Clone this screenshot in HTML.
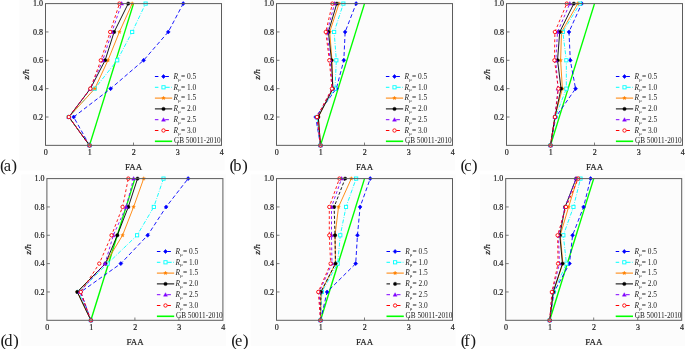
<!DOCTYPE html>
<html><head><meta charset="utf-8"><style>
html,body{margin:0;padding:0;background:#fff;}
svg{display:block;font-family:"Liberation Serif", serif;filter:blur(0.35px);}
text{fill:#1a1a1a;}
.b{stroke:#1a1a1a;stroke-width:0.18px;}
</style></head><body>
<svg width="685" height="349" viewBox="0 0 685 349">
<rect x="0" y="0" width="685" height="349" fill="#ffffff"/>
<g fill="#fcfcfc">
<rect x="19.5" y="0" width="205" height="170.6"/>
<rect x="250" y="0" width="205" height="170.6"/>
<rect x="479.9" y="0" width="205.1" height="170.6"/>
<rect x="21.2" y="174.4" width="205" height="171.4"/>
<rect x="250.7" y="174.4" width="205" height="171.4"/>
<rect x="480" y="174.4" width="205" height="171.4"/>
</g>
<line x1="89.50" y1="145.35" x2="133.50" y2="3.60" stroke="#00ff00" stroke-width="1.4"/>
<polyline points="89.50,145.35 73.66,117.00 110.62,88.65 143.62,60.30 168.26,31.95 183.22,3.60" fill="none" stroke="#0000ff" stroke-width="0.9" stroke-dasharray="4 2.5"/>
<polyline points="89.50,145.35 68.82,117.00 94.78,88.65 117.22,60.30 132.18,31.95 145.60,3.60" fill="none" stroke="#00ffff" stroke-width="0.9" stroke-dasharray="4 1.5 0.8 1.5"/>
<polyline points="89.50,145.35 68.82,117.00 94.78,88.65 107.98,60.30 119.42,31.95 132.18,3.60" fill="none" stroke="#ff8000" stroke-width="0.9"/>
<polyline points="89.50,145.35 68.82,117.00 90.38,88.65 105.12,60.30 114.14,31.95 128.22,3.60" fill="none" stroke="#000000" stroke-width="0.9"/>
<polyline points="89.50,145.35 68.82,117.00 90.38,88.65 102.70,60.30 111.94,31.95 121.62,3.60" fill="none" stroke="#8000ff" stroke-width="0.9" stroke-dasharray="2.8 2.4"/>
<polyline points="89.50,145.35 68.82,117.00 90.38,88.65 100.81,60.30 110.18,31.95 119.42,3.60" fill="none" stroke="#ff0000" stroke-width="0.9" stroke-dasharray="2.8 2.4"/>
<path d="M89.50 143.35L91.40 145.35L89.50 147.35L87.60 145.35Z" fill="#0000ff" stroke="#0000ff" stroke-width="0.6"/>
<path d="M73.66 115.00L75.56 117.00L73.66 119.00L71.76 117.00Z" fill="#0000ff" stroke="#0000ff" stroke-width="0.6"/>
<path d="M110.62 86.65L112.52 88.65L110.62 90.65L108.72 88.65Z" fill="#0000ff" stroke="#0000ff" stroke-width="0.6"/>
<path d="M143.62 58.30L145.52 60.30L143.62 62.30L141.72 60.30Z" fill="#0000ff" stroke="#0000ff" stroke-width="0.6"/>
<path d="M168.26 29.95L170.16 31.95L168.26 33.95L166.36 31.95Z" fill="#0000ff" stroke="#0000ff" stroke-width="0.6"/>
<path d="M183.22 1.60L185.12 3.60L183.22 5.60L181.32 3.60Z" fill="#0000ff" stroke="#0000ff" stroke-width="0.6"/>
<rect x="87.90" y="143.75" width="3.20" height="3.20" fill="#ffffff" stroke="#00ffff" stroke-width="0.9"/>
<rect x="67.22" y="115.40" width="3.20" height="3.20" fill="#ffffff" stroke="#00ffff" stroke-width="0.9"/>
<rect x="93.18" y="87.05" width="3.20" height="3.20" fill="#ffffff" stroke="#00ffff" stroke-width="0.9"/>
<rect x="115.62" y="58.70" width="3.20" height="3.20" fill="#ffffff" stroke="#00ffff" stroke-width="0.9"/>
<rect x="130.58" y="30.35" width="3.20" height="3.20" fill="#ffffff" stroke="#00ffff" stroke-width="0.9"/>
<rect x="144.00" y="2.00" width="3.20" height="3.20" fill="#ffffff" stroke="#00ffff" stroke-width="0.9"/>
<path d="M89.50 143.35L90.03 144.62L91.40 144.73L90.36 145.63L90.68 146.97L89.50 146.25L88.32 146.97L88.64 145.63L87.60 144.73L88.97 144.62Z" fill="#ff8000" stroke="#ff8000" stroke-width="0.3"/>
<path d="M68.82 115.00L69.35 116.27L70.72 116.38L69.68 117.28L70.00 118.62L68.82 117.90L67.64 118.62L67.96 117.28L66.92 116.38L68.29 116.27Z" fill="#ff8000" stroke="#ff8000" stroke-width="0.3"/>
<path d="M94.78 86.65L95.31 87.92L96.68 88.03L95.64 88.93L95.96 90.27L94.78 89.55L93.60 90.27L93.92 88.93L92.88 88.03L94.25 87.92Z" fill="#ff8000" stroke="#ff8000" stroke-width="0.3"/>
<path d="M107.98 58.30L108.51 59.57L109.88 59.68L108.84 60.58L109.16 61.92L107.98 61.20L106.80 61.92L107.12 60.58L106.08 59.68L107.45 59.57Z" fill="#ff8000" stroke="#ff8000" stroke-width="0.3"/>
<path d="M119.42 29.95L119.95 31.22L121.32 31.33L120.28 32.23L120.60 33.57L119.42 32.85L118.24 33.57L118.56 32.23L117.52 31.33L118.89 31.22Z" fill="#ff8000" stroke="#ff8000" stroke-width="0.3"/>
<path d="M132.18 1.60L132.71 2.87L134.08 2.98L133.04 3.88L133.36 5.22L132.18 4.50L131.00 5.22L131.32 3.88L130.28 2.98L131.65 2.87Z" fill="#ff8000" stroke="#ff8000" stroke-width="0.3"/>
<circle cx="89.50" cy="145.35" r="1.70" fill="#000000" stroke="#000000" stroke-width="0.4"/>
<circle cx="68.82" cy="117.00" r="1.70" fill="#000000" stroke="#000000" stroke-width="0.4"/>
<circle cx="90.38" cy="88.65" r="1.70" fill="#000000" stroke="#000000" stroke-width="0.4"/>
<circle cx="105.12" cy="60.30" r="1.70" fill="#000000" stroke="#000000" stroke-width="0.4"/>
<circle cx="114.14" cy="31.95" r="1.70" fill="#000000" stroke="#000000" stroke-width="0.4"/>
<circle cx="128.22" cy="3.60" r="1.70" fill="#000000" stroke="#000000" stroke-width="0.4"/>
<path d="M89.50 143.35L91.50 146.85L87.50 146.85Z" fill="#8000ff" stroke="#8000ff" stroke-width="0.4"/>
<path d="M68.82 115.00L70.82 118.50L66.82 118.50Z" fill="#8000ff" stroke="#8000ff" stroke-width="0.4"/>
<path d="M90.38 86.65L92.38 90.15L88.38 90.15Z" fill="#8000ff" stroke="#8000ff" stroke-width="0.4"/>
<path d="M102.70 58.30L104.70 61.80L100.70 61.80Z" fill="#8000ff" stroke="#8000ff" stroke-width="0.4"/>
<path d="M111.94 29.95L113.94 33.45L109.94 33.45Z" fill="#8000ff" stroke="#8000ff" stroke-width="0.4"/>
<path d="M121.62 1.60L123.62 5.10L119.62 5.10Z" fill="#8000ff" stroke="#8000ff" stroke-width="0.4"/>
<circle cx="89.50" cy="145.35" r="1.70" fill="#ffffff" stroke="#ff0000" stroke-width="0.9"/>
<circle cx="68.82" cy="117.00" r="1.70" fill="#ffffff" stroke="#ff0000" stroke-width="0.9"/>
<circle cx="90.38" cy="88.65" r="1.70" fill="#ffffff" stroke="#ff0000" stroke-width="0.9"/>
<circle cx="100.81" cy="60.30" r="1.70" fill="#ffffff" stroke="#ff0000" stroke-width="0.9"/>
<circle cx="110.18" cy="31.95" r="1.70" fill="#ffffff" stroke="#ff0000" stroke-width="0.9"/>
<circle cx="119.42" cy="3.60" r="1.70" fill="#ffffff" stroke="#ff0000" stroke-width="0.9"/>
<rect x="45.50" y="3.60" width="176.00" height="141.75" fill="none" stroke="#5c5c5c" stroke-width="1"/>
<line x1="89.50" y1="145.35" x2="89.50" y2="142.55" stroke="#5c5c5c" stroke-width="0.8"/>
<line x1="133.50" y1="145.35" x2="133.50" y2="142.55" stroke="#5c5c5c" stroke-width="0.8"/>
<line x1="177.50" y1="145.35" x2="177.50" y2="142.55" stroke="#5c5c5c" stroke-width="0.8"/>
<line x1="45.50" y1="117.00" x2="48.50" y2="117.00" stroke="#5c5c5c" stroke-width="0.8"/>
<line x1="45.50" y1="88.65" x2="48.50" y2="88.65" stroke="#5c5c5c" stroke-width="0.8"/>
<line x1="45.50" y1="60.30" x2="48.50" y2="60.30" stroke="#5c5c5c" stroke-width="0.8"/>
<line x1="45.50" y1="31.95" x2="48.50" y2="31.95" stroke="#5c5c5c" stroke-width="0.8"/>
<text class="b" x="45.80" y="154.95" font-size="8.0" text-anchor="middle">0</text>
<text class="b" x="89.80" y="154.95" font-size="8.0" text-anchor="middle">1</text>
<text class="b" x="133.80" y="154.95" font-size="8.0" text-anchor="middle">2</text>
<text class="b" x="177.80" y="154.95" font-size="8.0" text-anchor="middle">3</text>
<text class="b" x="221.80" y="154.95" font-size="8.0" text-anchor="middle">4</text>
<text class="b" x="43.10" y="119.80" font-size="8.0" text-anchor="end">0.2</text>
<text class="b" x="43.10" y="91.45" font-size="8.0" text-anchor="end">0.4</text>
<text class="b" x="43.10" y="63.10" font-size="8.0" text-anchor="end">0.6</text>
<text class="b" x="43.10" y="34.75" font-size="8.0" text-anchor="end">0.8</text>
<text class="b" x="43.10" y="6.40" font-size="8.0" text-anchor="end">1.0</text>
<text class="b" x="133.60" y="169.75" font-size="9.0" text-anchor="middle" textLength="17.20" lengthAdjust="spacingAndGlyphs">FAA</text>
<text class="b" x="0" y="0" font-size="9.2" font-style="italic" text-anchor="middle" transform="translate(29.40,74.47) rotate(-90)">z/h</text>
<line x1="154.90" y1="76.50" x2="158.40" y2="76.50" stroke="#0000ff" stroke-width="1"/>
<line x1="165.20" y1="76.50" x2="168.90" y2="76.50" stroke="#0000ff" stroke-width="1"/>
<path d="M163.50 74.50L165.40 76.50L163.50 78.50L161.60 76.50Z" fill="#0000ff" stroke="#0000ff" stroke-width="0.6"/>
<text x="173.60" y="78.80" font-size="7.2" textLength="22.6" lengthAdjust="spacingAndGlyphs"><tspan font-style="italic">R</tspan><tspan font-size="5" dy="1.8">μ</tspan><tspan dy="-1.8">= 0.5</tspan></text>
<line x1="154.90" y1="87.30" x2="158.40" y2="87.30" stroke="#00ffff" stroke-width="1"/>
<line x1="165.20" y1="87.30" x2="169.70" y2="87.30" stroke="#00ffff" stroke-width="1"/>
<line x1="171.10" y1="87.30" x2="171.80" y2="87.30" stroke="#00ffff" stroke-width="1"/>
<rect x="161.90" y="85.70" width="3.20" height="3.20" fill="#ffffff" stroke="#00ffff" stroke-width="0.9"/>
<text x="173.60" y="89.60" font-size="7.2" textLength="22.6" lengthAdjust="spacingAndGlyphs"><tspan font-style="italic">R</tspan><tspan font-size="5" dy="1.8">μ</tspan><tspan dy="-1.8">= 1.0</tspan></text>
<line x1="154.90" y1="98.10" x2="172.20" y2="98.10" stroke="#ff8000" stroke-width="1"/>
<path d="M163.50 96.10L164.03 97.37L165.40 97.48L164.36 98.38L164.68 99.72L163.50 99.00L162.32 99.72L162.64 98.38L161.60 97.48L162.97 97.37Z" fill="#ff8000" stroke="#ff8000" stroke-width="0.3"/>
<text x="173.60" y="100.40" font-size="7.2" textLength="22.6" lengthAdjust="spacingAndGlyphs"><tspan font-style="italic">R</tspan><tspan font-size="5" dy="1.8">μ</tspan><tspan dy="-1.8">= 1.5</tspan></text>
<line x1="154.90" y1="108.90" x2="172.20" y2="108.90" stroke="#000000" stroke-width="1"/>
<circle cx="163.50" cy="108.90" r="1.70" fill="#000000" stroke="#000000" stroke-width="0.4"/>
<text x="173.60" y="111.20" font-size="7.2" textLength="22.6" lengthAdjust="spacingAndGlyphs"><tspan font-style="italic">R</tspan><tspan font-size="5" dy="1.8">μ</tspan><tspan dy="-1.8">= 2.0</tspan></text>
<line x1="154.90" y1="119.70" x2="158.40" y2="119.70" stroke="#8000ff" stroke-width="1"/>
<line x1="165.20" y1="119.70" x2="168.90" y2="119.70" stroke="#8000ff" stroke-width="1"/>
<path d="M163.50 117.70L165.50 121.20L161.50 121.20Z" fill="#8000ff" stroke="#8000ff" stroke-width="0.4"/>
<text x="173.60" y="122.00" font-size="7.2" textLength="22.6" lengthAdjust="spacingAndGlyphs"><tspan font-style="italic">R</tspan><tspan font-size="5" dy="1.8">μ</tspan><tspan dy="-1.8">= 2.5</tspan></text>
<line x1="154.90" y1="130.50" x2="158.40" y2="130.50" stroke="#ff0000" stroke-width="1"/>
<line x1="165.20" y1="130.50" x2="168.90" y2="130.50" stroke="#ff0000" stroke-width="1"/>
<circle cx="163.50" cy="130.50" r="1.70" fill="#ffffff" stroke="#ff0000" stroke-width="0.9"/>
<text x="173.60" y="132.80" font-size="7.2" textLength="22.6" lengthAdjust="spacingAndGlyphs"><tspan font-style="italic">R</tspan><tspan font-size="5" dy="1.8">μ</tspan><tspan dy="-1.8">= 3.0</tspan></text>
<line x1="154.90" y1="141.30" x2="172.20" y2="141.30" stroke="#00ff00" stroke-width="1.6"/>
<text x="173.90" y="143.30" font-size="7.4" text-anchor="start" textLength="46.80" lengthAdjust="spacingAndGlyphs">GB 50011-2010</text>
<text x="0.00" y="170.80" font-size="16.5"><tspan font-size="17.5">(</tspan><tspan dx="-2.2">a</tspan><tspan dx="0.4" font-size="17.5">)</tspan></text>
<line x1="320.50" y1="145.35" x2="364.50" y2="3.60" stroke="#00ff00" stroke-width="1.4"/>
<polyline points="320.50,145.35 315.66,117.00 336.34,88.65 343.82,60.30 345.14,31.95 356.14,3.60" fill="none" stroke="#0000ff" stroke-width="0.9" stroke-dasharray="4 2.5"/>
<polyline points="320.50,145.35 316.98,117.00 335.02,88.65 336.34,60.30 334.14,31.95 343.38,3.60" fill="none" stroke="#00ffff" stroke-width="0.9" stroke-dasharray="4 1.5 0.8 1.5"/>
<polyline points="320.50,145.35 318.30,117.00 332.82,88.65 331.94,60.30 329.74,31.95 338.98,3.60" fill="none" stroke="#ff8000" stroke-width="0.9"/>
<polyline points="320.50,145.35 318.30,117.00 332.82,88.65 331.50,60.30 328.42,31.95 336.78,3.60" fill="none" stroke="#000000" stroke-width="0.9"/>
<polyline points="320.50,145.35 316.98,117.00 332.38,88.65 330.18,60.30 327.10,31.95 334.58,3.60" fill="none" stroke="#8000ff" stroke-width="0.9" stroke-dasharray="2.8 2.4"/>
<polyline points="320.50,145.35 316.98,117.00 331.94,88.65 329.30,60.30 325.78,31.95 332.38,3.60" fill="none" stroke="#ff0000" stroke-width="0.9" stroke-dasharray="2.8 2.4"/>
<path d="M320.50 143.35L322.40 145.35L320.50 147.35L318.60 145.35Z" fill="#0000ff" stroke="#0000ff" stroke-width="0.6"/>
<path d="M315.66 115.00L317.56 117.00L315.66 119.00L313.76 117.00Z" fill="#0000ff" stroke="#0000ff" stroke-width="0.6"/>
<path d="M336.34 86.65L338.24 88.65L336.34 90.65L334.44 88.65Z" fill="#0000ff" stroke="#0000ff" stroke-width="0.6"/>
<path d="M343.82 58.30L345.72 60.30L343.82 62.30L341.92 60.30Z" fill="#0000ff" stroke="#0000ff" stroke-width="0.6"/>
<path d="M345.14 29.95L347.04 31.95L345.14 33.95L343.24 31.95Z" fill="#0000ff" stroke="#0000ff" stroke-width="0.6"/>
<path d="M356.14 1.60L358.04 3.60L356.14 5.60L354.24 3.60Z" fill="#0000ff" stroke="#0000ff" stroke-width="0.6"/>
<rect x="318.90" y="143.75" width="3.20" height="3.20" fill="#ffffff" stroke="#00ffff" stroke-width="0.9"/>
<rect x="315.38" y="115.40" width="3.20" height="3.20" fill="#ffffff" stroke="#00ffff" stroke-width="0.9"/>
<rect x="333.42" y="87.05" width="3.20" height="3.20" fill="#ffffff" stroke="#00ffff" stroke-width="0.9"/>
<rect x="334.74" y="58.70" width="3.20" height="3.20" fill="#ffffff" stroke="#00ffff" stroke-width="0.9"/>
<rect x="332.54" y="30.35" width="3.20" height="3.20" fill="#ffffff" stroke="#00ffff" stroke-width="0.9"/>
<rect x="341.78" y="2.00" width="3.20" height="3.20" fill="#ffffff" stroke="#00ffff" stroke-width="0.9"/>
<path d="M320.50 143.35L321.03 144.62L322.40 144.73L321.36 145.63L321.68 146.97L320.50 146.25L319.32 146.97L319.64 145.63L318.60 144.73L319.97 144.62Z" fill="#ff8000" stroke="#ff8000" stroke-width="0.3"/>
<path d="M318.30 115.00L318.83 116.27L320.20 116.38L319.16 117.28L319.48 118.62L318.30 117.90L317.12 118.62L317.44 117.28L316.40 116.38L317.77 116.27Z" fill="#ff8000" stroke="#ff8000" stroke-width="0.3"/>
<path d="M332.82 86.65L333.35 87.92L334.72 88.03L333.68 88.93L334.00 90.27L332.82 89.55L331.64 90.27L331.96 88.93L330.92 88.03L332.29 87.92Z" fill="#ff8000" stroke="#ff8000" stroke-width="0.3"/>
<path d="M331.94 58.30L332.47 59.57L333.84 59.68L332.80 60.58L333.12 61.92L331.94 61.20L330.76 61.92L331.08 60.58L330.04 59.68L331.41 59.57Z" fill="#ff8000" stroke="#ff8000" stroke-width="0.3"/>
<path d="M329.74 29.95L330.27 31.22L331.64 31.33L330.60 32.23L330.92 33.57L329.74 32.85L328.56 33.57L328.88 32.23L327.84 31.33L329.21 31.22Z" fill="#ff8000" stroke="#ff8000" stroke-width="0.3"/>
<path d="M338.98 1.60L339.51 2.87L340.88 2.98L339.84 3.88L340.16 5.22L338.98 4.50L337.80 5.22L338.12 3.88L337.08 2.98L338.45 2.87Z" fill="#ff8000" stroke="#ff8000" stroke-width="0.3"/>
<circle cx="320.50" cy="145.35" r="1.70" fill="#000000" stroke="#000000" stroke-width="0.4"/>
<circle cx="318.30" cy="117.00" r="1.70" fill="#000000" stroke="#000000" stroke-width="0.4"/>
<circle cx="332.82" cy="88.65" r="1.70" fill="#000000" stroke="#000000" stroke-width="0.4"/>
<circle cx="331.50" cy="60.30" r="1.70" fill="#000000" stroke="#000000" stroke-width="0.4"/>
<circle cx="328.42" cy="31.95" r="1.70" fill="#000000" stroke="#000000" stroke-width="0.4"/>
<circle cx="336.78" cy="3.60" r="1.70" fill="#000000" stroke="#000000" stroke-width="0.4"/>
<path d="M320.50 143.35L322.50 146.85L318.50 146.85Z" fill="#8000ff" stroke="#8000ff" stroke-width="0.4"/>
<path d="M316.98 115.00L318.98 118.50L314.98 118.50Z" fill="#8000ff" stroke="#8000ff" stroke-width="0.4"/>
<path d="M332.38 86.65L334.38 90.15L330.38 90.15Z" fill="#8000ff" stroke="#8000ff" stroke-width="0.4"/>
<path d="M330.18 58.30L332.18 61.80L328.18 61.80Z" fill="#8000ff" stroke="#8000ff" stroke-width="0.4"/>
<path d="M327.10 29.95L329.10 33.45L325.10 33.45Z" fill="#8000ff" stroke="#8000ff" stroke-width="0.4"/>
<path d="M334.58 1.60L336.58 5.10L332.58 5.10Z" fill="#8000ff" stroke="#8000ff" stroke-width="0.4"/>
<circle cx="320.50" cy="145.35" r="1.70" fill="#ffffff" stroke="#ff0000" stroke-width="0.9"/>
<circle cx="316.98" cy="117.00" r="1.70" fill="#ffffff" stroke="#ff0000" stroke-width="0.9"/>
<circle cx="331.94" cy="88.65" r="1.70" fill="#ffffff" stroke="#ff0000" stroke-width="0.9"/>
<circle cx="329.30" cy="60.30" r="1.70" fill="#ffffff" stroke="#ff0000" stroke-width="0.9"/>
<circle cx="325.78" cy="31.95" r="1.70" fill="#ffffff" stroke="#ff0000" stroke-width="0.9"/>
<circle cx="332.38" cy="3.60" r="1.70" fill="#ffffff" stroke="#ff0000" stroke-width="0.9"/>
<rect x="276.50" y="3.60" width="176.00" height="141.75" fill="none" stroke="#5c5c5c" stroke-width="1"/>
<line x1="320.50" y1="145.35" x2="320.50" y2="142.55" stroke="#5c5c5c" stroke-width="0.8"/>
<line x1="364.50" y1="145.35" x2="364.50" y2="142.55" stroke="#5c5c5c" stroke-width="0.8"/>
<line x1="408.50" y1="145.35" x2="408.50" y2="142.55" stroke="#5c5c5c" stroke-width="0.8"/>
<line x1="276.50" y1="117.00" x2="279.50" y2="117.00" stroke="#5c5c5c" stroke-width="0.8"/>
<line x1="276.50" y1="88.65" x2="279.50" y2="88.65" stroke="#5c5c5c" stroke-width="0.8"/>
<line x1="276.50" y1="60.30" x2="279.50" y2="60.30" stroke="#5c5c5c" stroke-width="0.8"/>
<line x1="276.50" y1="31.95" x2="279.50" y2="31.95" stroke="#5c5c5c" stroke-width="0.8"/>
<text class="b" x="276.80" y="154.95" font-size="8.0" text-anchor="middle">0</text>
<text class="b" x="320.80" y="154.95" font-size="8.0" text-anchor="middle">1</text>
<text class="b" x="364.80" y="154.95" font-size="8.0" text-anchor="middle">2</text>
<text class="b" x="408.80" y="154.95" font-size="8.0" text-anchor="middle">3</text>
<text class="b" x="452.80" y="154.95" font-size="8.0" text-anchor="middle">4</text>
<text class="b" x="274.10" y="119.80" font-size="8.0" text-anchor="end">0.2</text>
<text class="b" x="274.10" y="91.45" font-size="8.0" text-anchor="end">0.4</text>
<text class="b" x="274.10" y="63.10" font-size="8.0" text-anchor="end">0.6</text>
<text class="b" x="274.10" y="34.75" font-size="8.0" text-anchor="end">0.8</text>
<text class="b" x="274.10" y="6.40" font-size="8.0" text-anchor="end">1.0</text>
<text class="b" x="364.60" y="169.75" font-size="9.0" text-anchor="middle" textLength="17.20" lengthAdjust="spacingAndGlyphs">FAA</text>
<text class="b" x="0" y="0" font-size="9.2" font-style="italic" text-anchor="middle" transform="translate(260.40,74.47) rotate(-90)">z/h</text>
<line x1="385.90" y1="76.50" x2="389.40" y2="76.50" stroke="#0000ff" stroke-width="1"/>
<line x1="396.20" y1="76.50" x2="399.90" y2="76.50" stroke="#0000ff" stroke-width="1"/>
<path d="M394.50 74.50L396.40 76.50L394.50 78.50L392.60 76.50Z" fill="#0000ff" stroke="#0000ff" stroke-width="0.6"/>
<text x="404.60" y="78.80" font-size="7.2" textLength="22.6" lengthAdjust="spacingAndGlyphs"><tspan font-style="italic">R</tspan><tspan font-size="5" dy="1.8">μ</tspan><tspan dy="-1.8">= 0.5</tspan></text>
<line x1="385.90" y1="87.30" x2="389.40" y2="87.30" stroke="#00ffff" stroke-width="1"/>
<line x1="396.20" y1="87.30" x2="400.70" y2="87.30" stroke="#00ffff" stroke-width="1"/>
<line x1="402.10" y1="87.30" x2="402.80" y2="87.30" stroke="#00ffff" stroke-width="1"/>
<rect x="392.90" y="85.70" width="3.20" height="3.20" fill="#ffffff" stroke="#00ffff" stroke-width="0.9"/>
<text x="404.60" y="89.60" font-size="7.2" textLength="22.6" lengthAdjust="spacingAndGlyphs"><tspan font-style="italic">R</tspan><tspan font-size="5" dy="1.8">μ</tspan><tspan dy="-1.8">= 1.0</tspan></text>
<line x1="385.90" y1="98.10" x2="403.20" y2="98.10" stroke="#ff8000" stroke-width="1"/>
<path d="M394.50 96.10L395.03 97.37L396.40 97.48L395.36 98.38L395.68 99.72L394.50 99.00L393.32 99.72L393.64 98.38L392.60 97.48L393.97 97.37Z" fill="#ff8000" stroke="#ff8000" stroke-width="0.3"/>
<text x="404.60" y="100.40" font-size="7.2" textLength="22.6" lengthAdjust="spacingAndGlyphs"><tspan font-style="italic">R</tspan><tspan font-size="5" dy="1.8">μ</tspan><tspan dy="-1.8">= 1.5</tspan></text>
<line x1="385.90" y1="108.90" x2="403.20" y2="108.90" stroke="#000000" stroke-width="1"/>
<circle cx="394.50" cy="108.90" r="1.70" fill="#000000" stroke="#000000" stroke-width="0.4"/>
<text x="404.60" y="111.20" font-size="7.2" textLength="22.6" lengthAdjust="spacingAndGlyphs"><tspan font-style="italic">R</tspan><tspan font-size="5" dy="1.8">μ</tspan><tspan dy="-1.8">= 2.0</tspan></text>
<line x1="385.90" y1="119.70" x2="389.40" y2="119.70" stroke="#8000ff" stroke-width="1"/>
<line x1="396.20" y1="119.70" x2="399.90" y2="119.70" stroke="#8000ff" stroke-width="1"/>
<path d="M394.50 117.70L396.50 121.20L392.50 121.20Z" fill="#8000ff" stroke="#8000ff" stroke-width="0.4"/>
<text x="404.60" y="122.00" font-size="7.2" textLength="22.6" lengthAdjust="spacingAndGlyphs"><tspan font-style="italic">R</tspan><tspan font-size="5" dy="1.8">μ</tspan><tspan dy="-1.8">= 2.5</tspan></text>
<line x1="385.90" y1="130.50" x2="389.40" y2="130.50" stroke="#ff0000" stroke-width="1"/>
<line x1="396.20" y1="130.50" x2="399.90" y2="130.50" stroke="#ff0000" stroke-width="1"/>
<circle cx="394.50" cy="130.50" r="1.70" fill="#ffffff" stroke="#ff0000" stroke-width="0.9"/>
<text x="404.60" y="132.80" font-size="7.2" textLength="22.6" lengthAdjust="spacingAndGlyphs"><tspan font-style="italic">R</tspan><tspan font-size="5" dy="1.8">μ</tspan><tspan dy="-1.8">= 3.0</tspan></text>
<line x1="385.90" y1="141.30" x2="403.20" y2="141.30" stroke="#00ff00" stroke-width="1.6"/>
<text x="404.90" y="143.30" font-size="7.4" text-anchor="start" textLength="46.80" lengthAdjust="spacingAndGlyphs">GB 50011-2010</text>
<text x="229.60" y="170.80" font-size="16.5"><tspan font-size="17.5">(</tspan><tspan dx="-2.2">b</tspan><tspan dx="0.4" font-size="17.5">)</tspan></text>
<line x1="550.50" y1="145.35" x2="594.50" y2="3.60" stroke="#00ff00" stroke-width="1.4"/>
<polyline points="550.50,145.35 555.78,117.00 575.58,88.65 570.30,60.30 568.98,31.95 581.74,3.60" fill="none" stroke="#0000ff" stroke-width="0.9" stroke-dasharray="4 2.5"/>
<polyline points="550.50,145.35 555.34,117.00 566.34,88.65 566.34,60.30 562.82,31.95 579.98,3.60" fill="none" stroke="#00ffff" stroke-width="0.9" stroke-dasharray="4 1.5 0.8 1.5"/>
<polyline points="550.50,145.35 554.90,117.00 562.38,88.65 560.62,60.30 561.50,31.95 577.78,3.60" fill="none" stroke="#ff8000" stroke-width="0.9"/>
<polyline points="550.50,145.35 554.90,117.00 561.06,88.65 557.54,60.30 559.74,31.95 573.82,3.60" fill="none" stroke="#000000" stroke-width="0.9"/>
<polyline points="550.50,145.35 554.90,117.00 557.98,88.65 555.78,60.30 557.54,31.95 569.86,3.60" fill="none" stroke="#8000ff" stroke-width="0.9" stroke-dasharray="2.8 2.4"/>
<polyline points="550.50,145.35 554.90,117.00 558.42,88.65 554.46,60.30 554.90,31.95 566.78,3.60" fill="none" stroke="#ff0000" stroke-width="0.9" stroke-dasharray="2.8 2.4"/>
<path d="M550.50 143.35L552.40 145.35L550.50 147.35L548.60 145.35Z" fill="#0000ff" stroke="#0000ff" stroke-width="0.6"/>
<path d="M555.78 115.00L557.68 117.00L555.78 119.00L553.88 117.00Z" fill="#0000ff" stroke="#0000ff" stroke-width="0.6"/>
<path d="M575.58 86.65L577.48 88.65L575.58 90.65L573.68 88.65Z" fill="#0000ff" stroke="#0000ff" stroke-width="0.6"/>
<path d="M570.30 58.30L572.20 60.30L570.30 62.30L568.40 60.30Z" fill="#0000ff" stroke="#0000ff" stroke-width="0.6"/>
<path d="M568.98 29.95L570.88 31.95L568.98 33.95L567.08 31.95Z" fill="#0000ff" stroke="#0000ff" stroke-width="0.6"/>
<path d="M581.74 1.60L583.64 3.60L581.74 5.60L579.84 3.60Z" fill="#0000ff" stroke="#0000ff" stroke-width="0.6"/>
<rect x="548.90" y="143.75" width="3.20" height="3.20" fill="#ffffff" stroke="#00ffff" stroke-width="0.9"/>
<rect x="553.74" y="115.40" width="3.20" height="3.20" fill="#ffffff" stroke="#00ffff" stroke-width="0.9"/>
<rect x="564.74" y="87.05" width="3.20" height="3.20" fill="#ffffff" stroke="#00ffff" stroke-width="0.9"/>
<rect x="564.74" y="58.70" width="3.20" height="3.20" fill="#ffffff" stroke="#00ffff" stroke-width="0.9"/>
<rect x="561.22" y="30.35" width="3.20" height="3.20" fill="#ffffff" stroke="#00ffff" stroke-width="0.9"/>
<rect x="578.38" y="2.00" width="3.20" height="3.20" fill="#ffffff" stroke="#00ffff" stroke-width="0.9"/>
<path d="M550.50 143.35L551.03 144.62L552.40 144.73L551.36 145.63L551.68 146.97L550.50 146.25L549.32 146.97L549.64 145.63L548.60 144.73L549.97 144.62Z" fill="#ff8000" stroke="#ff8000" stroke-width="0.3"/>
<path d="M554.90 115.00L555.43 116.27L556.80 116.38L555.76 117.28L556.08 118.62L554.90 117.90L553.72 118.62L554.04 117.28L553.00 116.38L554.37 116.27Z" fill="#ff8000" stroke="#ff8000" stroke-width="0.3"/>
<path d="M562.38 86.65L562.91 87.92L564.28 88.03L563.24 88.93L563.56 90.27L562.38 89.55L561.20 90.27L561.52 88.93L560.48 88.03L561.85 87.92Z" fill="#ff8000" stroke="#ff8000" stroke-width="0.3"/>
<path d="M560.62 58.30L561.15 59.57L562.52 59.68L561.48 60.58L561.80 61.92L560.62 61.20L559.44 61.92L559.76 60.58L558.72 59.68L560.09 59.57Z" fill="#ff8000" stroke="#ff8000" stroke-width="0.3"/>
<path d="M561.50 29.95L562.03 31.22L563.40 31.33L562.36 32.23L562.68 33.57L561.50 32.85L560.32 33.57L560.64 32.23L559.60 31.33L560.97 31.22Z" fill="#ff8000" stroke="#ff8000" stroke-width="0.3"/>
<path d="M577.78 1.60L578.31 2.87L579.68 2.98L578.64 3.88L578.96 5.22L577.78 4.50L576.60 5.22L576.92 3.88L575.88 2.98L577.25 2.87Z" fill="#ff8000" stroke="#ff8000" stroke-width="0.3"/>
<circle cx="550.50" cy="145.35" r="1.70" fill="#000000" stroke="#000000" stroke-width="0.4"/>
<circle cx="554.90" cy="117.00" r="1.70" fill="#000000" stroke="#000000" stroke-width="0.4"/>
<circle cx="561.06" cy="88.65" r="1.70" fill="#000000" stroke="#000000" stroke-width="0.4"/>
<circle cx="557.54" cy="60.30" r="1.70" fill="#000000" stroke="#000000" stroke-width="0.4"/>
<circle cx="559.74" cy="31.95" r="1.70" fill="#000000" stroke="#000000" stroke-width="0.4"/>
<circle cx="573.82" cy="3.60" r="1.70" fill="#000000" stroke="#000000" stroke-width="0.4"/>
<path d="M550.50 143.35L552.50 146.85L548.50 146.85Z" fill="#8000ff" stroke="#8000ff" stroke-width="0.4"/>
<path d="M554.90 115.00L556.90 118.50L552.90 118.50Z" fill="#8000ff" stroke="#8000ff" stroke-width="0.4"/>
<path d="M557.98 86.65L559.98 90.15L555.98 90.15Z" fill="#8000ff" stroke="#8000ff" stroke-width="0.4"/>
<path d="M555.78 58.30L557.78 61.80L553.78 61.80Z" fill="#8000ff" stroke="#8000ff" stroke-width="0.4"/>
<path d="M557.54 29.95L559.54 33.45L555.54 33.45Z" fill="#8000ff" stroke="#8000ff" stroke-width="0.4"/>
<path d="M569.86 1.60L571.86 5.10L567.86 5.10Z" fill="#8000ff" stroke="#8000ff" stroke-width="0.4"/>
<circle cx="550.50" cy="145.35" r="1.70" fill="#ffffff" stroke="#ff0000" stroke-width="0.9"/>
<circle cx="554.90" cy="117.00" r="1.70" fill="#ffffff" stroke="#ff0000" stroke-width="0.9"/>
<circle cx="558.42" cy="88.65" r="1.70" fill="#ffffff" stroke="#ff0000" stroke-width="0.9"/>
<circle cx="554.46" cy="60.30" r="1.70" fill="#ffffff" stroke="#ff0000" stroke-width="0.9"/>
<circle cx="554.90" cy="31.95" r="1.70" fill="#ffffff" stroke="#ff0000" stroke-width="0.9"/>
<circle cx="566.78" cy="3.60" r="1.70" fill="#ffffff" stroke="#ff0000" stroke-width="0.9"/>
<rect x="506.50" y="3.60" width="176.00" height="141.75" fill="none" stroke="#5c5c5c" stroke-width="1"/>
<line x1="550.50" y1="145.35" x2="550.50" y2="142.55" stroke="#5c5c5c" stroke-width="0.8"/>
<line x1="594.50" y1="145.35" x2="594.50" y2="142.55" stroke="#5c5c5c" stroke-width="0.8"/>
<line x1="638.50" y1="145.35" x2="638.50" y2="142.55" stroke="#5c5c5c" stroke-width="0.8"/>
<line x1="506.50" y1="117.00" x2="509.50" y2="117.00" stroke="#5c5c5c" stroke-width="0.8"/>
<line x1="506.50" y1="88.65" x2="509.50" y2="88.65" stroke="#5c5c5c" stroke-width="0.8"/>
<line x1="506.50" y1="60.30" x2="509.50" y2="60.30" stroke="#5c5c5c" stroke-width="0.8"/>
<line x1="506.50" y1="31.95" x2="509.50" y2="31.95" stroke="#5c5c5c" stroke-width="0.8"/>
<text class="b" x="506.80" y="154.95" font-size="8.0" text-anchor="middle">0</text>
<text class="b" x="550.80" y="154.95" font-size="8.0" text-anchor="middle">1</text>
<text class="b" x="594.80" y="154.95" font-size="8.0" text-anchor="middle">2</text>
<text class="b" x="638.80" y="154.95" font-size="8.0" text-anchor="middle">3</text>
<text class="b" x="682.80" y="154.95" font-size="8.0" text-anchor="middle">4</text>
<text class="b" x="504.10" y="119.80" font-size="8.0" text-anchor="end">0.2</text>
<text class="b" x="504.10" y="91.45" font-size="8.0" text-anchor="end">0.4</text>
<text class="b" x="504.10" y="63.10" font-size="8.0" text-anchor="end">0.6</text>
<text class="b" x="504.10" y="34.75" font-size="8.0" text-anchor="end">0.8</text>
<text class="b" x="504.10" y="6.40" font-size="8.0" text-anchor="end">1.0</text>
<text class="b" x="594.60" y="169.75" font-size="9.0" text-anchor="middle" textLength="17.20" lengthAdjust="spacingAndGlyphs">FAA</text>
<text class="b" x="0" y="0" font-size="9.2" font-style="italic" text-anchor="middle" transform="translate(490.40,74.47) rotate(-90)">z/h</text>
<line x1="615.90" y1="76.50" x2="619.40" y2="76.50" stroke="#0000ff" stroke-width="1"/>
<line x1="626.20" y1="76.50" x2="629.90" y2="76.50" stroke="#0000ff" stroke-width="1"/>
<path d="M624.50 74.50L626.40 76.50L624.50 78.50L622.60 76.50Z" fill="#0000ff" stroke="#0000ff" stroke-width="0.6"/>
<text x="634.60" y="78.80" font-size="7.2" textLength="22.6" lengthAdjust="spacingAndGlyphs"><tspan font-style="italic">R</tspan><tspan font-size="5" dy="1.8">μ</tspan><tspan dy="-1.8">= 0.5</tspan></text>
<line x1="615.90" y1="87.30" x2="619.40" y2="87.30" stroke="#00ffff" stroke-width="1"/>
<line x1="626.20" y1="87.30" x2="630.70" y2="87.30" stroke="#00ffff" stroke-width="1"/>
<line x1="632.10" y1="87.30" x2="632.80" y2="87.30" stroke="#00ffff" stroke-width="1"/>
<rect x="622.90" y="85.70" width="3.20" height="3.20" fill="#ffffff" stroke="#00ffff" stroke-width="0.9"/>
<text x="634.60" y="89.60" font-size="7.2" textLength="22.6" lengthAdjust="spacingAndGlyphs"><tspan font-style="italic">R</tspan><tspan font-size="5" dy="1.8">μ</tspan><tspan dy="-1.8">= 1.0</tspan></text>
<line x1="615.90" y1="98.10" x2="633.20" y2="98.10" stroke="#ff8000" stroke-width="1"/>
<path d="M624.50 96.10L625.03 97.37L626.40 97.48L625.36 98.38L625.68 99.72L624.50 99.00L623.32 99.72L623.64 98.38L622.60 97.48L623.97 97.37Z" fill="#ff8000" stroke="#ff8000" stroke-width="0.3"/>
<text x="634.60" y="100.40" font-size="7.2" textLength="22.6" lengthAdjust="spacingAndGlyphs"><tspan font-style="italic">R</tspan><tspan font-size="5" dy="1.8">μ</tspan><tspan dy="-1.8">= 1.5</tspan></text>
<line x1="615.90" y1="108.90" x2="633.20" y2="108.90" stroke="#000000" stroke-width="1"/>
<circle cx="624.50" cy="108.90" r="1.70" fill="#000000" stroke="#000000" stroke-width="0.4"/>
<text x="634.60" y="111.20" font-size="7.2" textLength="22.6" lengthAdjust="spacingAndGlyphs"><tspan font-style="italic">R</tspan><tspan font-size="5" dy="1.8">μ</tspan><tspan dy="-1.8">= 2.0</tspan></text>
<line x1="615.90" y1="119.70" x2="619.40" y2="119.70" stroke="#8000ff" stroke-width="1"/>
<line x1="626.20" y1="119.70" x2="629.90" y2="119.70" stroke="#8000ff" stroke-width="1"/>
<path d="M624.50 117.70L626.50 121.20L622.50 121.20Z" fill="#8000ff" stroke="#8000ff" stroke-width="0.4"/>
<text x="634.60" y="122.00" font-size="7.2" textLength="22.6" lengthAdjust="spacingAndGlyphs"><tspan font-style="italic">R</tspan><tspan font-size="5" dy="1.8">μ</tspan><tspan dy="-1.8">= 2.5</tspan></text>
<line x1="615.90" y1="130.50" x2="619.40" y2="130.50" stroke="#ff0000" stroke-width="1"/>
<line x1="626.20" y1="130.50" x2="629.90" y2="130.50" stroke="#ff0000" stroke-width="1"/>
<circle cx="624.50" cy="130.50" r="1.70" fill="#ffffff" stroke="#ff0000" stroke-width="0.9"/>
<text x="634.60" y="132.80" font-size="7.2" textLength="22.6" lengthAdjust="spacingAndGlyphs"><tspan font-style="italic">R</tspan><tspan font-size="5" dy="1.8">μ</tspan><tspan dy="-1.8">= 3.0</tspan></text>
<line x1="615.90" y1="141.30" x2="633.20" y2="141.30" stroke="#00ff00" stroke-width="1.6"/>
<text x="634.90" y="143.30" font-size="7.4" text-anchor="start" textLength="46.80" lengthAdjust="spacingAndGlyphs">GB 50011-2010</text>
<text x="460.50" y="170.80" font-size="16.5"><tspan font-size="17.5">(</tspan><tspan dx="-2.2">c</tspan><tspan dx="0.4" font-size="17.5">)</tspan></text>
<line x1="90.90" y1="320.30" x2="134.90" y2="178.60" stroke="#00ff00" stroke-width="1.4"/>
<polyline points="90.90,320.30 80.78,291.96 120.82,263.62 147.66,235.28 166.14,206.94 188.14,178.60" fill="none" stroke="#0000ff" stroke-width="0.9" stroke-dasharray="4 2.5"/>
<polyline points="90.90,320.30 78.58,291.96 107.62,263.62 137.10,235.28 153.82,206.94 163.50,178.60" fill="none" stroke="#00ffff" stroke-width="0.9" stroke-dasharray="4 1.5 0.8 1.5"/>
<polyline points="90.90,320.30 77.26,291.96 105.42,263.62 122.58,235.28 133.58,206.94 143.70,178.60" fill="none" stroke="#ff8000" stroke-width="0.9"/>
<polyline points="90.90,320.30 77.26,291.96 105.42,263.62 117.30,235.28 128.30,206.94 137.54,178.60" fill="none" stroke="#000000" stroke-width="0.9"/>
<polyline points="90.90,320.30 79.90,291.96 104.98,263.62 113.34,235.28 126.10,206.94 133.58,178.60" fill="none" stroke="#8000ff" stroke-width="0.9" stroke-dasharray="2.8 2.4"/>
<polyline points="90.90,320.30 80.78,291.96 99.26,263.62 111.58,235.28 122.58,206.94 128.30,178.60" fill="none" stroke="#ff0000" stroke-width="0.9" stroke-dasharray="2.8 2.4"/>
<path d="M90.90 318.30L92.80 320.30L90.90 322.30L89.00 320.30Z" fill="#0000ff" stroke="#0000ff" stroke-width="0.6"/>
<path d="M80.78 289.96L82.68 291.96L80.78 293.96L78.88 291.96Z" fill="#0000ff" stroke="#0000ff" stroke-width="0.6"/>
<path d="M120.82 261.62L122.72 263.62L120.82 265.62L118.92 263.62Z" fill="#0000ff" stroke="#0000ff" stroke-width="0.6"/>
<path d="M147.66 233.28L149.56 235.28L147.66 237.28L145.76 235.28Z" fill="#0000ff" stroke="#0000ff" stroke-width="0.6"/>
<path d="M166.14 204.94L168.04 206.94L166.14 208.94L164.24 206.94Z" fill="#0000ff" stroke="#0000ff" stroke-width="0.6"/>
<path d="M188.14 176.60L190.04 178.60L188.14 180.60L186.24 178.60Z" fill="#0000ff" stroke="#0000ff" stroke-width="0.6"/>
<rect x="89.30" y="318.70" width="3.20" height="3.20" fill="#ffffff" stroke="#00ffff" stroke-width="0.9"/>
<rect x="76.98" y="290.36" width="3.20" height="3.20" fill="#ffffff" stroke="#00ffff" stroke-width="0.9"/>
<rect x="106.02" y="262.02" width="3.20" height="3.20" fill="#ffffff" stroke="#00ffff" stroke-width="0.9"/>
<rect x="135.50" y="233.68" width="3.20" height="3.20" fill="#ffffff" stroke="#00ffff" stroke-width="0.9"/>
<rect x="152.22" y="205.34" width="3.20" height="3.20" fill="#ffffff" stroke="#00ffff" stroke-width="0.9"/>
<rect x="161.90" y="177.00" width="3.20" height="3.20" fill="#ffffff" stroke="#00ffff" stroke-width="0.9"/>
<path d="M90.90 318.30L91.43 319.57L92.80 319.68L91.76 320.58L92.08 321.92L90.90 321.20L89.72 321.92L90.04 320.58L89.00 319.68L90.37 319.57Z" fill="#ff8000" stroke="#ff8000" stroke-width="0.3"/>
<path d="M77.26 289.96L77.79 291.23L79.16 291.34L78.12 292.24L78.44 293.58L77.26 292.86L76.08 293.58L76.40 292.24L75.36 291.34L76.73 291.23Z" fill="#ff8000" stroke="#ff8000" stroke-width="0.3"/>
<path d="M105.42 261.62L105.95 262.89L107.32 263.00L106.28 263.90L106.60 265.24L105.42 264.52L104.24 265.24L104.56 263.90L103.52 263.00L104.89 262.89Z" fill="#ff8000" stroke="#ff8000" stroke-width="0.3"/>
<path d="M122.58 233.28L123.11 234.55L124.48 234.66L123.44 235.56L123.76 236.90L122.58 236.18L121.40 236.90L121.72 235.56L120.68 234.66L122.05 234.55Z" fill="#ff8000" stroke="#ff8000" stroke-width="0.3"/>
<path d="M133.58 204.94L134.11 206.21L135.48 206.32L134.44 207.22L134.76 208.56L133.58 207.84L132.40 208.56L132.72 207.22L131.68 206.32L133.05 206.21Z" fill="#ff8000" stroke="#ff8000" stroke-width="0.3"/>
<path d="M143.70 176.60L144.23 177.87L145.60 177.98L144.56 178.88L144.88 180.22L143.70 179.50L142.52 180.22L142.84 178.88L141.80 177.98L143.17 177.87Z" fill="#ff8000" stroke="#ff8000" stroke-width="0.3"/>
<circle cx="90.90" cy="320.30" r="1.70" fill="#000000" stroke="#000000" stroke-width="0.4"/>
<circle cx="77.26" cy="291.96" r="1.70" fill="#000000" stroke="#000000" stroke-width="0.4"/>
<circle cx="105.42" cy="263.62" r="1.70" fill="#000000" stroke="#000000" stroke-width="0.4"/>
<circle cx="117.30" cy="235.28" r="1.70" fill="#000000" stroke="#000000" stroke-width="0.4"/>
<circle cx="128.30" cy="206.94" r="1.70" fill="#000000" stroke="#000000" stroke-width="0.4"/>
<circle cx="137.54" cy="178.60" r="1.70" fill="#000000" stroke="#000000" stroke-width="0.4"/>
<path d="M90.90 318.30L92.90 321.80L88.90 321.80Z" fill="#8000ff" stroke="#8000ff" stroke-width="0.4"/>
<path d="M79.90 289.96L81.90 293.46L77.90 293.46Z" fill="#8000ff" stroke="#8000ff" stroke-width="0.4"/>
<path d="M104.98 261.62L106.98 265.12L102.98 265.12Z" fill="#8000ff" stroke="#8000ff" stroke-width="0.4"/>
<path d="M113.34 233.28L115.34 236.78L111.34 236.78Z" fill="#8000ff" stroke="#8000ff" stroke-width="0.4"/>
<path d="M126.10 204.94L128.10 208.44L124.10 208.44Z" fill="#8000ff" stroke="#8000ff" stroke-width="0.4"/>
<path d="M133.58 176.60L135.58 180.10L131.58 180.10Z" fill="#8000ff" stroke="#8000ff" stroke-width="0.4"/>
<circle cx="90.90" cy="320.30" r="1.70" fill="#ffffff" stroke="#ff0000" stroke-width="0.9"/>
<circle cx="80.78" cy="291.96" r="1.70" fill="#ffffff" stroke="#ff0000" stroke-width="0.9"/>
<circle cx="99.26" cy="263.62" r="1.70" fill="#ffffff" stroke="#ff0000" stroke-width="0.9"/>
<circle cx="111.58" cy="235.28" r="1.70" fill="#ffffff" stroke="#ff0000" stroke-width="0.9"/>
<circle cx="122.58" cy="206.94" r="1.70" fill="#ffffff" stroke="#ff0000" stroke-width="0.9"/>
<circle cx="128.30" cy="178.60" r="1.70" fill="#ffffff" stroke="#ff0000" stroke-width="0.9"/>
<rect x="46.90" y="178.60" width="176.00" height="141.70" fill="none" stroke="#5c5c5c" stroke-width="1"/>
<line x1="90.90" y1="320.30" x2="90.90" y2="317.50" stroke="#5c5c5c" stroke-width="0.8"/>
<line x1="134.90" y1="320.30" x2="134.90" y2="317.50" stroke="#5c5c5c" stroke-width="0.8"/>
<line x1="178.90" y1="320.30" x2="178.90" y2="317.50" stroke="#5c5c5c" stroke-width="0.8"/>
<line x1="46.90" y1="291.96" x2="49.90" y2="291.96" stroke="#5c5c5c" stroke-width="0.8"/>
<line x1="46.90" y1="263.62" x2="49.90" y2="263.62" stroke="#5c5c5c" stroke-width="0.8"/>
<line x1="46.90" y1="235.28" x2="49.90" y2="235.28" stroke="#5c5c5c" stroke-width="0.8"/>
<line x1="46.90" y1="206.94" x2="49.90" y2="206.94" stroke="#5c5c5c" stroke-width="0.8"/>
<text class="b" x="47.20" y="329.90" font-size="8.0" text-anchor="middle">0</text>
<text class="b" x="91.20" y="329.90" font-size="8.0" text-anchor="middle">1</text>
<text class="b" x="135.20" y="329.90" font-size="8.0" text-anchor="middle">2</text>
<text class="b" x="179.20" y="329.90" font-size="8.0" text-anchor="middle">3</text>
<text class="b" x="223.20" y="329.90" font-size="8.0" text-anchor="middle">4</text>
<text class="b" x="44.50" y="294.76" font-size="8.0" text-anchor="end">0.2</text>
<text class="b" x="44.50" y="266.42" font-size="8.0" text-anchor="end">0.4</text>
<text class="b" x="44.50" y="238.08" font-size="8.0" text-anchor="end">0.6</text>
<text class="b" x="44.50" y="209.74" font-size="8.0" text-anchor="end">0.8</text>
<text class="b" x="44.50" y="181.40" font-size="8.0" text-anchor="end">1.0</text>
<text class="b" x="135.00" y="344.70" font-size="9.0" text-anchor="middle" textLength="17.20" lengthAdjust="spacingAndGlyphs">FAA</text>
<text class="b" x="0" y="0" font-size="9.2" font-style="italic" text-anchor="middle" transform="translate(30.80,249.45) rotate(-90)">z/h</text>
<line x1="156.90" y1="251.50" x2="160.40" y2="251.50" stroke="#0000ff" stroke-width="1"/>
<line x1="167.20" y1="251.50" x2="170.90" y2="251.50" stroke="#0000ff" stroke-width="1"/>
<path d="M165.50 249.50L167.40 251.50L165.50 253.50L163.60 251.50Z" fill="#0000ff" stroke="#0000ff" stroke-width="0.6"/>
<text x="175.60" y="253.80" font-size="7.2" textLength="22.6" lengthAdjust="spacingAndGlyphs"><tspan font-style="italic">R</tspan><tspan font-size="5" dy="1.8">μ</tspan><tspan dy="-1.8">= 0.5</tspan></text>
<line x1="156.90" y1="262.30" x2="160.40" y2="262.30" stroke="#00ffff" stroke-width="1"/>
<line x1="167.20" y1="262.30" x2="171.70" y2="262.30" stroke="#00ffff" stroke-width="1"/>
<line x1="173.10" y1="262.30" x2="173.80" y2="262.30" stroke="#00ffff" stroke-width="1"/>
<rect x="163.90" y="260.70" width="3.20" height="3.20" fill="#ffffff" stroke="#00ffff" stroke-width="0.9"/>
<text x="175.60" y="264.60" font-size="7.2" textLength="22.6" lengthAdjust="spacingAndGlyphs"><tspan font-style="italic">R</tspan><tspan font-size="5" dy="1.8">μ</tspan><tspan dy="-1.8">= 1.0</tspan></text>
<line x1="156.90" y1="273.10" x2="174.20" y2="273.10" stroke="#ff8000" stroke-width="1"/>
<path d="M165.50 271.10L166.03 272.37L167.40 272.48L166.36 273.38L166.68 274.72L165.50 274.00L164.32 274.72L164.64 273.38L163.60 272.48L164.97 272.37Z" fill="#ff8000" stroke="#ff8000" stroke-width="0.3"/>
<text x="175.60" y="275.40" font-size="7.2" textLength="22.6" lengthAdjust="spacingAndGlyphs"><tspan font-style="italic">R</tspan><tspan font-size="5" dy="1.8">μ</tspan><tspan dy="-1.8">= 1.5</tspan></text>
<line x1="156.90" y1="283.90" x2="174.20" y2="283.90" stroke="#000000" stroke-width="1"/>
<circle cx="165.50" cy="283.90" r="1.70" fill="#000000" stroke="#000000" stroke-width="0.4"/>
<text x="175.60" y="286.20" font-size="7.2" textLength="22.6" lengthAdjust="spacingAndGlyphs"><tspan font-style="italic">R</tspan><tspan font-size="5" dy="1.8">μ</tspan><tspan dy="-1.8">= 2.0</tspan></text>
<line x1="156.90" y1="294.70" x2="160.40" y2="294.70" stroke="#8000ff" stroke-width="1"/>
<line x1="167.20" y1="294.70" x2="170.90" y2="294.70" stroke="#8000ff" stroke-width="1"/>
<path d="M165.50 292.70L167.50 296.20L163.50 296.20Z" fill="#8000ff" stroke="#8000ff" stroke-width="0.4"/>
<text x="175.60" y="297.00" font-size="7.2" textLength="22.6" lengthAdjust="spacingAndGlyphs"><tspan font-style="italic">R</tspan><tspan font-size="5" dy="1.8">μ</tspan><tspan dy="-1.8">= 2.5</tspan></text>
<line x1="156.90" y1="305.50" x2="160.40" y2="305.50" stroke="#ff0000" stroke-width="1"/>
<line x1="167.20" y1="305.50" x2="170.90" y2="305.50" stroke="#ff0000" stroke-width="1"/>
<circle cx="165.50" cy="305.50" r="1.70" fill="#ffffff" stroke="#ff0000" stroke-width="0.9"/>
<text x="175.60" y="307.80" font-size="7.2" textLength="22.6" lengthAdjust="spacingAndGlyphs"><tspan font-style="italic">R</tspan><tspan font-size="5" dy="1.8">μ</tspan><tspan dy="-1.8">= 3.0</tspan></text>
<line x1="156.90" y1="316.30" x2="174.20" y2="316.30" stroke="#00ff00" stroke-width="1.6"/>
<text x="175.90" y="318.30" font-size="7.4" text-anchor="start" textLength="46.80" lengthAdjust="spacingAndGlyphs">GB 50011-2010</text>
<text x="0.60" y="346.00" font-size="16.5"><tspan font-size="17.5">(</tspan><tspan dx="-2.2">d</tspan><tspan dx="0.4" font-size="17.5">)</tspan></text>
<line x1="320.50" y1="320.30" x2="364.50" y2="178.60" stroke="#00ff00" stroke-width="1.4"/>
<polyline points="320.50,320.30 327.10,291.96 355.70,263.62 357.46,235.28 360.10,206.94 370.22,178.60" fill="none" stroke="#0000ff" stroke-width="0.9" stroke-dasharray="4 2.5"/>
<polyline points="320.50,320.30 321.82,291.96 337.66,263.62 340.30,235.28 346.02,206.94 356.14,178.60" fill="none" stroke="#00ffff" stroke-width="0.9" stroke-dasharray="4 1.5 0.8 1.5"/>
<polyline points="320.50,320.30 320.94,291.96 335.46,263.62 335.02,235.28 338.54,206.94 351.30,178.60" fill="none" stroke="#ff8000" stroke-width="0.9"/>
<polyline points="320.50,320.30 320.94,291.96 335.46,263.62 335.02,235.28 334.14,206.94 345.14,178.60" fill="none" stroke="#000000" stroke-width="0.9" stroke-dasharray="3 2"/>
<polyline points="320.50,320.30 319.18,291.96 331.94,263.62 331.50,235.28 331.50,206.94 341.62,178.60" fill="none" stroke="#8000ff" stroke-width="0.9" stroke-dasharray="2.8 2.4"/>
<polyline points="320.50,320.30 318.30,291.96 330.62,263.62 329.30,235.28 329.30,206.94 339.42,178.60" fill="none" stroke="#ff0000" stroke-width="0.9" stroke-dasharray="2.8 2.4"/>
<path d="M320.50 318.30L322.40 320.30L320.50 322.30L318.60 320.30Z" fill="#0000ff" stroke="#0000ff" stroke-width="0.6"/>
<path d="M327.10 289.96L329.00 291.96L327.10 293.96L325.20 291.96Z" fill="#0000ff" stroke="#0000ff" stroke-width="0.6"/>
<path d="M355.70 261.62L357.60 263.62L355.70 265.62L353.80 263.62Z" fill="#0000ff" stroke="#0000ff" stroke-width="0.6"/>
<path d="M357.46 233.28L359.36 235.28L357.46 237.28L355.56 235.28Z" fill="#0000ff" stroke="#0000ff" stroke-width="0.6"/>
<path d="M360.10 204.94L362.00 206.94L360.10 208.94L358.20 206.94Z" fill="#0000ff" stroke="#0000ff" stroke-width="0.6"/>
<path d="M370.22 176.60L372.12 178.60L370.22 180.60L368.32 178.60Z" fill="#0000ff" stroke="#0000ff" stroke-width="0.6"/>
<rect x="318.90" y="318.70" width="3.20" height="3.20" fill="#ffffff" stroke="#00ffff" stroke-width="0.9"/>
<rect x="320.22" y="290.36" width="3.20" height="3.20" fill="#ffffff" stroke="#00ffff" stroke-width="0.9"/>
<rect x="336.06" y="262.02" width="3.20" height="3.20" fill="#ffffff" stroke="#00ffff" stroke-width="0.9"/>
<rect x="338.70" y="233.68" width="3.20" height="3.20" fill="#ffffff" stroke="#00ffff" stroke-width="0.9"/>
<rect x="344.42" y="205.34" width="3.20" height="3.20" fill="#ffffff" stroke="#00ffff" stroke-width="0.9"/>
<rect x="354.54" y="177.00" width="3.20" height="3.20" fill="#ffffff" stroke="#00ffff" stroke-width="0.9"/>
<path d="M320.50 318.30L321.03 319.57L322.40 319.68L321.36 320.58L321.68 321.92L320.50 321.20L319.32 321.92L319.64 320.58L318.60 319.68L319.97 319.57Z" fill="#ff8000" stroke="#ff8000" stroke-width="0.3"/>
<path d="M320.94 289.96L321.47 291.23L322.84 291.34L321.80 292.24L322.12 293.58L320.94 292.86L319.76 293.58L320.08 292.24L319.04 291.34L320.41 291.23Z" fill="#ff8000" stroke="#ff8000" stroke-width="0.3"/>
<path d="M335.46 261.62L335.99 262.89L337.36 263.00L336.32 263.90L336.64 265.24L335.46 264.52L334.28 265.24L334.60 263.90L333.56 263.00L334.93 262.89Z" fill="#ff8000" stroke="#ff8000" stroke-width="0.3"/>
<path d="M335.02 233.28L335.55 234.55L336.92 234.66L335.88 235.56L336.20 236.90L335.02 236.18L333.84 236.90L334.16 235.56L333.12 234.66L334.49 234.55Z" fill="#ff8000" stroke="#ff8000" stroke-width="0.3"/>
<path d="M338.54 204.94L339.07 206.21L340.44 206.32L339.40 207.22L339.72 208.56L338.54 207.84L337.36 208.56L337.68 207.22L336.64 206.32L338.01 206.21Z" fill="#ff8000" stroke="#ff8000" stroke-width="0.3"/>
<path d="M351.30 176.60L351.83 177.87L353.20 177.98L352.16 178.88L352.48 180.22L351.30 179.50L350.12 180.22L350.44 178.88L349.40 177.98L350.77 177.87Z" fill="#ff8000" stroke="#ff8000" stroke-width="0.3"/>
<circle cx="320.50" cy="320.30" r="1.70" fill="#000000" stroke="#000000" stroke-width="0.4"/>
<circle cx="320.94" cy="291.96" r="1.70" fill="#000000" stroke="#000000" stroke-width="0.4"/>
<circle cx="335.46" cy="263.62" r="1.70" fill="#000000" stroke="#000000" stroke-width="0.4"/>
<circle cx="335.02" cy="235.28" r="1.70" fill="#000000" stroke="#000000" stroke-width="0.4"/>
<circle cx="334.14" cy="206.94" r="1.70" fill="#000000" stroke="#000000" stroke-width="0.4"/>
<circle cx="345.14" cy="178.60" r="1.70" fill="#000000" stroke="#000000" stroke-width="0.4"/>
<path d="M320.50 318.30L322.50 321.80L318.50 321.80Z" fill="#8000ff" stroke="#8000ff" stroke-width="0.4"/>
<path d="M319.18 289.96L321.18 293.46L317.18 293.46Z" fill="#8000ff" stroke="#8000ff" stroke-width="0.4"/>
<path d="M331.94 261.62L333.94 265.12L329.94 265.12Z" fill="#8000ff" stroke="#8000ff" stroke-width="0.4"/>
<path d="M331.50 233.28L333.50 236.78L329.50 236.78Z" fill="#8000ff" stroke="#8000ff" stroke-width="0.4"/>
<path d="M331.50 204.94L333.50 208.44L329.50 208.44Z" fill="#8000ff" stroke="#8000ff" stroke-width="0.4"/>
<path d="M341.62 176.60L343.62 180.10L339.62 180.10Z" fill="#8000ff" stroke="#8000ff" stroke-width="0.4"/>
<circle cx="320.50" cy="320.30" r="1.70" fill="#ffffff" stroke="#ff0000" stroke-width="0.9"/>
<circle cx="318.30" cy="291.96" r="1.70" fill="#ffffff" stroke="#ff0000" stroke-width="0.9"/>
<circle cx="330.62" cy="263.62" r="1.70" fill="#ffffff" stroke="#ff0000" stroke-width="0.9"/>
<circle cx="329.30" cy="235.28" r="1.70" fill="#ffffff" stroke="#ff0000" stroke-width="0.9"/>
<circle cx="329.30" cy="206.94" r="1.70" fill="#ffffff" stroke="#ff0000" stroke-width="0.9"/>
<circle cx="339.42" cy="178.60" r="1.70" fill="#ffffff" stroke="#ff0000" stroke-width="0.9"/>
<rect x="276.50" y="178.60" width="176.00" height="141.70" fill="none" stroke="#5c5c5c" stroke-width="1"/>
<line x1="320.50" y1="320.30" x2="320.50" y2="317.50" stroke="#5c5c5c" stroke-width="0.8"/>
<line x1="364.50" y1="320.30" x2="364.50" y2="317.50" stroke="#5c5c5c" stroke-width="0.8"/>
<line x1="408.50" y1="320.30" x2="408.50" y2="317.50" stroke="#5c5c5c" stroke-width="0.8"/>
<line x1="276.50" y1="291.96" x2="279.50" y2="291.96" stroke="#5c5c5c" stroke-width="0.8"/>
<line x1="276.50" y1="263.62" x2="279.50" y2="263.62" stroke="#5c5c5c" stroke-width="0.8"/>
<line x1="276.50" y1="235.28" x2="279.50" y2="235.28" stroke="#5c5c5c" stroke-width="0.8"/>
<line x1="276.50" y1="206.94" x2="279.50" y2="206.94" stroke="#5c5c5c" stroke-width="0.8"/>
<text class="b" x="276.80" y="329.90" font-size="8.0" text-anchor="middle">0</text>
<text class="b" x="320.80" y="329.90" font-size="8.0" text-anchor="middle">1</text>
<text class="b" x="364.80" y="329.90" font-size="8.0" text-anchor="middle">2</text>
<text class="b" x="408.80" y="329.90" font-size="8.0" text-anchor="middle">3</text>
<text class="b" x="452.80" y="329.90" font-size="8.0" text-anchor="middle">4</text>
<text class="b" x="274.10" y="294.76" font-size="8.0" text-anchor="end">0.2</text>
<text class="b" x="274.10" y="266.42" font-size="8.0" text-anchor="end">0.4</text>
<text class="b" x="274.10" y="238.08" font-size="8.0" text-anchor="end">0.6</text>
<text class="b" x="274.10" y="209.74" font-size="8.0" text-anchor="end">0.8</text>
<text class="b" x="274.10" y="181.40" font-size="8.0" text-anchor="end">1.0</text>
<text class="b" x="364.60" y="344.70" font-size="9.0" text-anchor="middle" textLength="17.20" lengthAdjust="spacingAndGlyphs">FAA</text>
<text class="b" x="0" y="0" font-size="9.2" font-style="italic" text-anchor="middle" transform="translate(260.40,249.45) rotate(-90)">z/h</text>
<line x1="386.50" y1="251.50" x2="390.00" y2="251.50" stroke="#0000ff" stroke-width="1"/>
<line x1="396.80" y1="251.50" x2="400.50" y2="251.50" stroke="#0000ff" stroke-width="1"/>
<path d="M395.10 249.50L397.00 251.50L395.10 253.50L393.20 251.50Z" fill="#0000ff" stroke="#0000ff" stroke-width="0.6"/>
<text x="405.20" y="253.80" font-size="7.2" textLength="22.6" lengthAdjust="spacingAndGlyphs"><tspan font-style="italic">R</tspan><tspan font-size="5" dy="1.8">μ</tspan><tspan dy="-1.8">= 0.5</tspan></text>
<line x1="386.50" y1="262.30" x2="390.00" y2="262.30" stroke="#00ffff" stroke-width="1"/>
<line x1="396.80" y1="262.30" x2="401.30" y2="262.30" stroke="#00ffff" stroke-width="1"/>
<line x1="402.70" y1="262.30" x2="403.40" y2="262.30" stroke="#00ffff" stroke-width="1"/>
<rect x="393.50" y="260.70" width="3.20" height="3.20" fill="#ffffff" stroke="#00ffff" stroke-width="0.9"/>
<text x="405.20" y="264.60" font-size="7.2" textLength="22.6" lengthAdjust="spacingAndGlyphs"><tspan font-style="italic">R</tspan><tspan font-size="5" dy="1.8">μ</tspan><tspan dy="-1.8">= 1.0</tspan></text>
<line x1="386.50" y1="273.10" x2="403.80" y2="273.10" stroke="#ff8000" stroke-width="1"/>
<path d="M395.10 271.10L395.63 272.37L397.00 272.48L395.96 273.38L396.28 274.72L395.10 274.00L393.92 274.72L394.24 273.38L393.20 272.48L394.57 272.37Z" fill="#ff8000" stroke="#ff8000" stroke-width="0.3"/>
<text x="405.20" y="275.40" font-size="7.2" textLength="22.6" lengthAdjust="spacingAndGlyphs"><tspan font-style="italic">R</tspan><tspan font-size="5" dy="1.8">μ</tspan><tspan dy="-1.8">= 1.5</tspan></text>
<line x1="386.50" y1="283.90" x2="390.00" y2="283.90" stroke="#000000" stroke-width="1"/>
<line x1="396.80" y1="283.90" x2="400.50" y2="283.90" stroke="#000000" stroke-width="1"/>
<circle cx="395.10" cy="283.90" r="1.70" fill="#000000" stroke="#000000" stroke-width="0.4"/>
<text x="405.20" y="286.20" font-size="7.2" textLength="22.6" lengthAdjust="spacingAndGlyphs"><tspan font-style="italic">R</tspan><tspan font-size="5" dy="1.8">μ</tspan><tspan dy="-1.8">= 2.0</tspan></text>
<line x1="386.50" y1="294.70" x2="390.00" y2="294.70" stroke="#8000ff" stroke-width="1"/>
<line x1="396.80" y1="294.70" x2="400.50" y2="294.70" stroke="#8000ff" stroke-width="1"/>
<path d="M395.10 292.70L397.10 296.20L393.10 296.20Z" fill="#8000ff" stroke="#8000ff" stroke-width="0.4"/>
<text x="405.20" y="297.00" font-size="7.2" textLength="22.6" lengthAdjust="spacingAndGlyphs"><tspan font-style="italic">R</tspan><tspan font-size="5" dy="1.8">μ</tspan><tspan dy="-1.8">= 2.5</tspan></text>
<line x1="386.50" y1="305.50" x2="390.00" y2="305.50" stroke="#ff0000" stroke-width="1"/>
<line x1="396.80" y1="305.50" x2="400.50" y2="305.50" stroke="#ff0000" stroke-width="1"/>
<circle cx="395.10" cy="305.50" r="1.70" fill="#ffffff" stroke="#ff0000" stroke-width="0.9"/>
<text x="405.20" y="307.80" font-size="7.2" textLength="22.6" lengthAdjust="spacingAndGlyphs"><tspan font-style="italic">R</tspan><tspan font-size="5" dy="1.8">μ</tspan><tspan dy="-1.8">= 3.0</tspan></text>
<line x1="386.50" y1="316.30" x2="403.80" y2="316.30" stroke="#00ff00" stroke-width="1.6"/>
<text x="405.50" y="318.30" font-size="7.4" text-anchor="start" textLength="46.80" lengthAdjust="spacingAndGlyphs">GB 50011-2010</text>
<text x="231.30" y="346.00" font-size="16.5"><tspan font-size="17.5">(</tspan><tspan dx="-2.2">e</tspan><tspan dx="0.4" font-size="17.5">)</tspan></text>
<line x1="549.70" y1="320.30" x2="593.70" y2="178.60" stroke="#00ff00" stroke-width="1.4"/>
<polyline points="549.70,320.30 554.10,291.96 569.50,263.62 572.58,235.28 583.58,206.94 590.62,178.60" fill="none" stroke="#0000ff" stroke-width="0.9" stroke-dasharray="4 2.5"/>
<polyline points="549.70,320.30 553.66,291.96 566.42,263.62 563.34,235.28 573.46,206.94 580.50,178.60" fill="none" stroke="#00ffff" stroke-width="0.9" stroke-dasharray="4 1.5 0.8 1.5"/>
<polyline points="549.70,320.30 553.22,291.96 562.90,263.62 560.26,235.28 568.62,206.94 577.42,178.60" fill="none" stroke="#ff8000" stroke-width="0.9"/>
<polyline points="549.70,320.30 553.22,291.96 562.46,263.62 559.82,235.28 565.10,206.94 576.10,178.60" fill="none" stroke="#000000" stroke-width="0.9"/>
<polyline points="549.70,320.30 552.34,291.96 559.38,263.62 558.50,235.28 565.10,206.94 576.10,178.60" fill="none" stroke="#8000ff" stroke-width="0.9" stroke-dasharray="2.8 2.4"/>
<polyline points="549.70,320.30 551.90,291.96 558.06,263.62 557.62,235.28 565.98,206.94 578.30,178.60" fill="none" stroke="#ff0000" stroke-width="0.9" stroke-dasharray="2.8 2.4"/>
<path d="M549.70 318.30L551.60 320.30L549.70 322.30L547.80 320.30Z" fill="#0000ff" stroke="#0000ff" stroke-width="0.6"/>
<path d="M554.10 289.96L556.00 291.96L554.10 293.96L552.20 291.96Z" fill="#0000ff" stroke="#0000ff" stroke-width="0.6"/>
<path d="M569.50 261.62L571.40 263.62L569.50 265.62L567.60 263.62Z" fill="#0000ff" stroke="#0000ff" stroke-width="0.6"/>
<path d="M572.58 233.28L574.48 235.28L572.58 237.28L570.68 235.28Z" fill="#0000ff" stroke="#0000ff" stroke-width="0.6"/>
<path d="M583.58 204.94L585.48 206.94L583.58 208.94L581.68 206.94Z" fill="#0000ff" stroke="#0000ff" stroke-width="0.6"/>
<path d="M590.62 176.60L592.52 178.60L590.62 180.60L588.72 178.60Z" fill="#0000ff" stroke="#0000ff" stroke-width="0.6"/>
<rect x="548.10" y="318.70" width="3.20" height="3.20" fill="#ffffff" stroke="#00ffff" stroke-width="0.9"/>
<rect x="552.06" y="290.36" width="3.20" height="3.20" fill="#ffffff" stroke="#00ffff" stroke-width="0.9"/>
<rect x="564.82" y="262.02" width="3.20" height="3.20" fill="#ffffff" stroke="#00ffff" stroke-width="0.9"/>
<rect x="561.74" y="233.68" width="3.20" height="3.20" fill="#ffffff" stroke="#00ffff" stroke-width="0.9"/>
<rect x="571.86" y="205.34" width="3.20" height="3.20" fill="#ffffff" stroke="#00ffff" stroke-width="0.9"/>
<rect x="578.90" y="177.00" width="3.20" height="3.20" fill="#ffffff" stroke="#00ffff" stroke-width="0.9"/>
<path d="M549.70 318.30L550.23 319.57L551.60 319.68L550.56 320.58L550.88 321.92L549.70 321.20L548.52 321.92L548.84 320.58L547.80 319.68L549.17 319.57Z" fill="#ff8000" stroke="#ff8000" stroke-width="0.3"/>
<path d="M553.22 289.96L553.75 291.23L555.12 291.34L554.08 292.24L554.40 293.58L553.22 292.86L552.04 293.58L552.36 292.24L551.32 291.34L552.69 291.23Z" fill="#ff8000" stroke="#ff8000" stroke-width="0.3"/>
<path d="M562.90 261.62L563.43 262.89L564.80 263.00L563.76 263.90L564.08 265.24L562.90 264.52L561.72 265.24L562.04 263.90L561.00 263.00L562.37 262.89Z" fill="#ff8000" stroke="#ff8000" stroke-width="0.3"/>
<path d="M560.26 233.28L560.79 234.55L562.16 234.66L561.12 235.56L561.44 236.90L560.26 236.18L559.08 236.90L559.40 235.56L558.36 234.66L559.73 234.55Z" fill="#ff8000" stroke="#ff8000" stroke-width="0.3"/>
<path d="M568.62 204.94L569.15 206.21L570.52 206.32L569.48 207.22L569.80 208.56L568.62 207.84L567.44 208.56L567.76 207.22L566.72 206.32L568.09 206.21Z" fill="#ff8000" stroke="#ff8000" stroke-width="0.3"/>
<path d="M577.42 176.60L577.95 177.87L579.32 177.98L578.28 178.88L578.60 180.22L577.42 179.50L576.24 180.22L576.56 178.88L575.52 177.98L576.89 177.87Z" fill="#ff8000" stroke="#ff8000" stroke-width="0.3"/>
<circle cx="549.70" cy="320.30" r="1.70" fill="#000000" stroke="#000000" stroke-width="0.4"/>
<circle cx="553.22" cy="291.96" r="1.70" fill="#000000" stroke="#000000" stroke-width="0.4"/>
<circle cx="562.46" cy="263.62" r="1.70" fill="#000000" stroke="#000000" stroke-width="0.4"/>
<circle cx="559.82" cy="235.28" r="1.70" fill="#000000" stroke="#000000" stroke-width="0.4"/>
<circle cx="565.10" cy="206.94" r="1.70" fill="#000000" stroke="#000000" stroke-width="0.4"/>
<circle cx="576.10" cy="178.60" r="1.70" fill="#000000" stroke="#000000" stroke-width="0.4"/>
<path d="M549.70 318.30L551.70 321.80L547.70 321.80Z" fill="#8000ff" stroke="#8000ff" stroke-width="0.4"/>
<path d="M552.34 289.96L554.34 293.46L550.34 293.46Z" fill="#8000ff" stroke="#8000ff" stroke-width="0.4"/>
<path d="M559.38 261.62L561.38 265.12L557.38 265.12Z" fill="#8000ff" stroke="#8000ff" stroke-width="0.4"/>
<path d="M558.50 233.28L560.50 236.78L556.50 236.78Z" fill="#8000ff" stroke="#8000ff" stroke-width="0.4"/>
<path d="M565.10 204.94L567.10 208.44L563.10 208.44Z" fill="#8000ff" stroke="#8000ff" stroke-width="0.4"/>
<path d="M576.10 176.60L578.10 180.10L574.10 180.10Z" fill="#8000ff" stroke="#8000ff" stroke-width="0.4"/>
<circle cx="549.70" cy="320.30" r="1.70" fill="#ffffff" stroke="#ff0000" stroke-width="0.9"/>
<circle cx="551.90" cy="291.96" r="1.70" fill="#ffffff" stroke="#ff0000" stroke-width="0.9"/>
<circle cx="558.06" cy="263.62" r="1.70" fill="#ffffff" stroke="#ff0000" stroke-width="0.9"/>
<circle cx="557.62" cy="235.28" r="1.70" fill="#ffffff" stroke="#ff0000" stroke-width="0.9"/>
<circle cx="565.98" cy="206.94" r="1.70" fill="#ffffff" stroke="#ff0000" stroke-width="0.9"/>
<circle cx="578.30" cy="178.60" r="1.70" fill="#ffffff" stroke="#ff0000" stroke-width="0.9"/>
<rect x="505.70" y="178.60" width="176.00" height="141.70" fill="none" stroke="#5c5c5c" stroke-width="1"/>
<line x1="549.70" y1="320.30" x2="549.70" y2="317.50" stroke="#5c5c5c" stroke-width="0.8"/>
<line x1="593.70" y1="320.30" x2="593.70" y2="317.50" stroke="#5c5c5c" stroke-width="0.8"/>
<line x1="637.70" y1="320.30" x2="637.70" y2="317.50" stroke="#5c5c5c" stroke-width="0.8"/>
<line x1="505.70" y1="291.96" x2="508.70" y2="291.96" stroke="#5c5c5c" stroke-width="0.8"/>
<line x1="505.70" y1="263.62" x2="508.70" y2="263.62" stroke="#5c5c5c" stroke-width="0.8"/>
<line x1="505.70" y1="235.28" x2="508.70" y2="235.28" stroke="#5c5c5c" stroke-width="0.8"/>
<line x1="505.70" y1="206.94" x2="508.70" y2="206.94" stroke="#5c5c5c" stroke-width="0.8"/>
<text class="b" x="506.00" y="329.90" font-size="8.0" text-anchor="middle">0</text>
<text class="b" x="550.00" y="329.90" font-size="8.0" text-anchor="middle">1</text>
<text class="b" x="594.00" y="329.90" font-size="8.0" text-anchor="middle">2</text>
<text class="b" x="638.00" y="329.90" font-size="8.0" text-anchor="middle">3</text>
<text class="b" x="682.00" y="329.90" font-size="8.0" text-anchor="middle">4</text>
<text class="b" x="503.30" y="294.76" font-size="8.0" text-anchor="end">0.2</text>
<text class="b" x="503.30" y="266.42" font-size="8.0" text-anchor="end">0.4</text>
<text class="b" x="503.30" y="238.08" font-size="8.0" text-anchor="end">0.6</text>
<text class="b" x="503.30" y="209.74" font-size="8.0" text-anchor="end">0.8</text>
<text class="b" x="503.30" y="181.40" font-size="8.0" text-anchor="end">1.0</text>
<text class="b" x="593.80" y="344.70" font-size="9.0" text-anchor="middle" textLength="17.20" lengthAdjust="spacingAndGlyphs">FAA</text>
<text class="b" x="0" y="0" font-size="9.2" font-style="italic" text-anchor="middle" transform="translate(489.60,249.45) rotate(-90)">z/h</text>
<line x1="615.70" y1="251.50" x2="619.20" y2="251.50" stroke="#0000ff" stroke-width="1"/>
<line x1="626.00" y1="251.50" x2="629.70" y2="251.50" stroke="#0000ff" stroke-width="1"/>
<path d="M624.30 249.50L626.20 251.50L624.30 253.50L622.40 251.50Z" fill="#0000ff" stroke="#0000ff" stroke-width="0.6"/>
<text x="634.40" y="253.80" font-size="7.2" textLength="22.6" lengthAdjust="spacingAndGlyphs"><tspan font-style="italic">R</tspan><tspan font-size="5" dy="1.8">μ</tspan><tspan dy="-1.8">= 0.5</tspan></text>
<line x1="615.70" y1="262.30" x2="619.20" y2="262.30" stroke="#00ffff" stroke-width="1"/>
<line x1="626.00" y1="262.30" x2="630.50" y2="262.30" stroke="#00ffff" stroke-width="1"/>
<line x1="631.90" y1="262.30" x2="632.60" y2="262.30" stroke="#00ffff" stroke-width="1"/>
<rect x="622.70" y="260.70" width="3.20" height="3.20" fill="#ffffff" stroke="#00ffff" stroke-width="0.9"/>
<text x="634.40" y="264.60" font-size="7.2" textLength="22.6" lengthAdjust="spacingAndGlyphs"><tspan font-style="italic">R</tspan><tspan font-size="5" dy="1.8">μ</tspan><tspan dy="-1.8">= 1.0</tspan></text>
<line x1="615.70" y1="273.10" x2="633.00" y2="273.10" stroke="#ff8000" stroke-width="1"/>
<path d="M624.30 271.10L624.83 272.37L626.20 272.48L625.16 273.38L625.48 274.72L624.30 274.00L623.12 274.72L623.44 273.38L622.40 272.48L623.77 272.37Z" fill="#ff8000" stroke="#ff8000" stroke-width="0.3"/>
<text x="634.40" y="275.40" font-size="7.2" textLength="22.6" lengthAdjust="spacingAndGlyphs"><tspan font-style="italic">R</tspan><tspan font-size="5" dy="1.8">μ</tspan><tspan dy="-1.8">= 1.5</tspan></text>
<line x1="615.70" y1="283.90" x2="633.00" y2="283.90" stroke="#000000" stroke-width="1"/>
<circle cx="624.30" cy="283.90" r="1.70" fill="#000000" stroke="#000000" stroke-width="0.4"/>
<text x="634.40" y="286.20" font-size="7.2" textLength="22.6" lengthAdjust="spacingAndGlyphs"><tspan font-style="italic">R</tspan><tspan font-size="5" dy="1.8">μ</tspan><tspan dy="-1.8">= 2.0</tspan></text>
<line x1="615.70" y1="294.70" x2="619.20" y2="294.70" stroke="#8000ff" stroke-width="1"/>
<line x1="626.00" y1="294.70" x2="629.70" y2="294.70" stroke="#8000ff" stroke-width="1"/>
<path d="M624.30 292.70L626.30 296.20L622.30 296.20Z" fill="#8000ff" stroke="#8000ff" stroke-width="0.4"/>
<text x="634.40" y="297.00" font-size="7.2" textLength="22.6" lengthAdjust="spacingAndGlyphs"><tspan font-style="italic">R</tspan><tspan font-size="5" dy="1.8">μ</tspan><tspan dy="-1.8">= 2.5</tspan></text>
<line x1="615.70" y1="305.50" x2="619.20" y2="305.50" stroke="#ff0000" stroke-width="1"/>
<line x1="626.00" y1="305.50" x2="629.70" y2="305.50" stroke="#ff0000" stroke-width="1"/>
<circle cx="624.30" cy="305.50" r="1.70" fill="#ffffff" stroke="#ff0000" stroke-width="0.9"/>
<text x="634.40" y="307.80" font-size="7.2" textLength="22.6" lengthAdjust="spacingAndGlyphs"><tspan font-style="italic">R</tspan><tspan font-size="5" dy="1.8">μ</tspan><tspan dy="-1.8">= 3.0</tspan></text>
<line x1="615.70" y1="316.30" x2="633.00" y2="316.30" stroke="#00ff00" stroke-width="1.6"/>
<text x="634.70" y="318.30" font-size="7.4" text-anchor="start" textLength="46.80" lengthAdjust="spacingAndGlyphs">GB 50011-2010</text>
<text x="460.70" y="346.00" font-size="16.5"><tspan font-size="17.5">(</tspan><tspan dx="-2.2">f</tspan><tspan dx="0.4" font-size="17.5">)</tspan></text>
</svg>
</body></html>
